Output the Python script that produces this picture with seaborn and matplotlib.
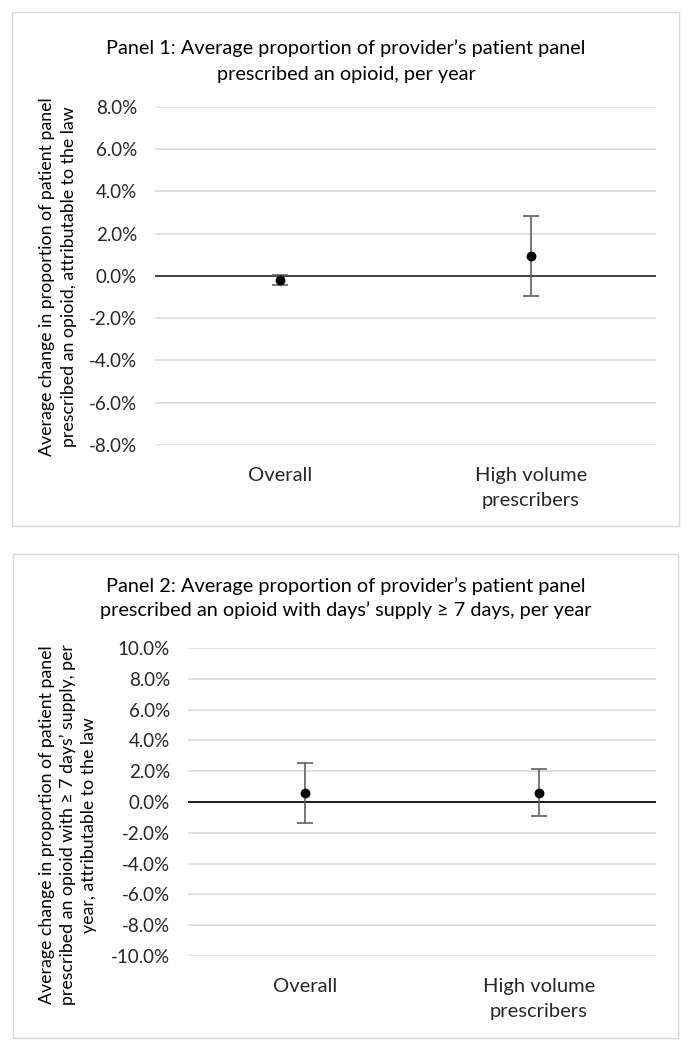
import matplotlib
matplotlib.use("Agg")
import matplotlib.pyplot as plt
from matplotlib.patches import Rectangle
from matplotlib.ticker import MultipleLocator, PercentFormatter
import seaborn as sns
import pandas as pd

groups = ["Overall", "High volume\nprescribers"]

# Panel 1: any opioid prescription (percentage points)
p1_est = [-0.2, 0.95]
p1_lo = [-0.45, -0.95]
p1_hi = [0.03, 2.85]

# Panel 2: opioid with days' supply >= 7
p2_est = [0.6, 0.6]
p2_lo = [-1.34, -0.89]
p2_hi = [2.53, 2.14]

p1_title = "Panel 1: Average proportion of provider\u2019s patient panel\nprescribed an opioid, per year"
p2_title = ("Panel 2: Average proportion of provider\u2019s patient panel\n"
            "prescribed an opioid with days\u2019 supply \u2265 7 days, per year")
p1_ylabel = "Average change in proportion of patient panel\nprescribed an opioid, attributable to the law"
p2_ylabel = ("Average change in proportion of patient panel\n"
             "prescribed an opioid with \u2265 7 days\u2019 supply, per\n"
             "year, attributable to the law")

sns.set_theme(style="white")
plt.rcParams["font.family"] = ["Lato", "DejaVu Sans"]
plt.rcParams["text.color"] = "#000000"
plt.rcParams["axes.unicode_minus"] = False

W, H = 691, 1050
fig = plt.figure(figsize=(W / 100, H / 100), dpi=100)


def px_box(x0, y0, x1, y1):
    # rectangle given in pixel coords (top-left origin)
    return [x0 / W, 1 - y1 / H, (x1 - x0) / W, (y1 - y0) / H]


# panel frames
for x0, y0, x1, y1 in [(12, 12, 679, 526), (13, 554, 678, 1038)]:
    b = px_box(x0, y0, x1, y1)
    fig.patches.append(Rectangle((b[0], b[1]), b[2], b[3], transform=fig.transFigure,
                                 facecolor="white", edgecolor="#d9d9d9", lw=1, zorder=-1))


def draw_panel(ax, est, lo, hi, lim, zero_color):
    df = pd.DataFrame({"group": groups, "est": est, "lo": lo, "hi": hi})
    yerr = [df["est"] - df["lo"], df["hi"] - df["est"]]
    ax.errorbar(df["group"], df["est"], yerr=yerr, fmt="none", ecolor="#606060",
                elinewidth=1.2, capsize=6, capthick=1.2, zorder=3)
    sns.scatterplot(data=df, x="group", y="est", color="black", s=50,
                    edgecolor="black", linewidth=0, zorder=4, ax=ax)
    ax.axhline(0, color=zero_color, lw=1.4, zorder=2)
    ax.set_xlim(-0.5, 1.5)
    ax.set_ylim(-lim, lim)
    ax.yaxis.set_major_locator(MultipleLocator(2))
    ax.yaxis.set_major_formatter(PercentFormatter(decimals=1))
    ax.yaxis.grid(True, color="#d9d9d9", lw=1.1)
    ax.set_axisbelow(True)
    for s in ax.spines.values():
        s.set_visible(False)
    ax.set_xlabel("")
    ax.set_ylabel("")
    ax.tick_params(axis="y", length=0, pad=13, labelsize=13.5)
    ax.tick_params(axis="x", length=0, pad=16, labelsize=14.5)
    for lab in ax.get_xticklabels():
        lab.set_linespacing(1.55)
    ax.patch.set_alpha(0)


ax1 = fig.add_axes(px_box(155, 106.7, 656, 445))
draw_panel(ax1, p1_est, p1_lo, p1_hi, 8, "#404040")
ax2 = fig.add_axes(px_box(188, 648, 656, 956))
draw_panel(ax2, p2_est, p2_lo, p2_hi, 10, "#1a1a1a")

fig.text(346 / W, 1 - 61 / H, p1_title, ha="center", va="center", fontsize=14.3, linespacing=1.6)
fig.text(346 / W, 1 - 598 / H, p2_title, ha="center", va="center", fontsize=14.3, linespacing=1.45)
fig.text(58 / W, 1 - 277 / H, p1_ylabel, ha="center", va="center", rotation=90,
         fontsize=12.8, linespacing=1.45, multialignment="center")
fig.text(68 / W, 1 - 825 / H, p2_ylabel, ha="center", va="center", rotation=90,
         fontsize=12.8, linespacing=1.4, multialignment="center")

fig.savefig("out.png", dpi=100, facecolor="white")
